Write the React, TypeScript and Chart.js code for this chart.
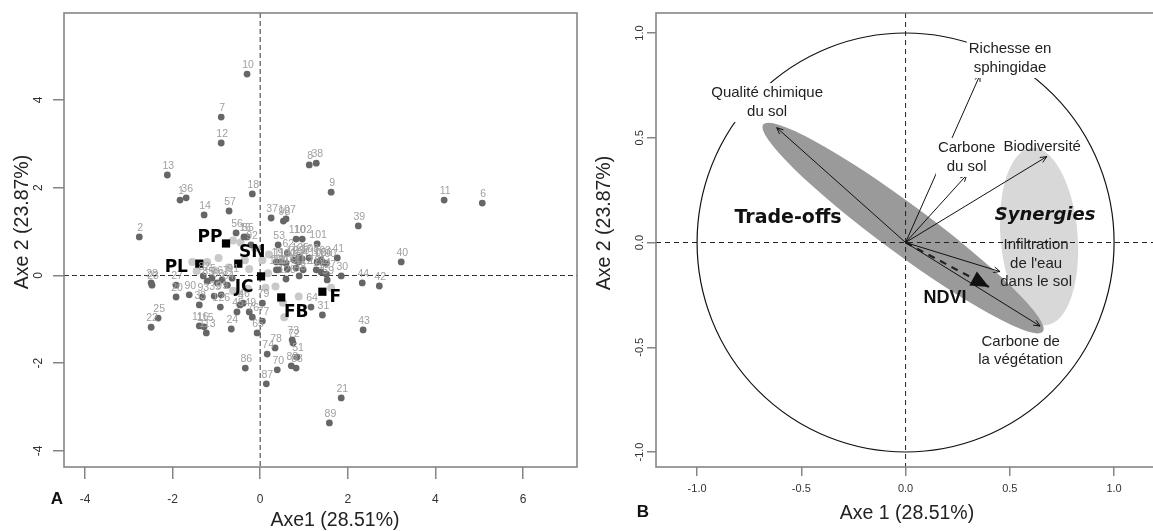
import React, { useEffect, useRef } from 'react';
import { Chart, registerables } from 'chart.js';
Chart.register(...registerables);

const SANS = '"Liberation Sans", Arial, Helvetica, sans-serif';
const COMIC = '"DejaVu Sans", sans-serif';
const FRAME = '#858585';

// ---------------- Panel A : individuals ----------------
const obsIds = ['10','7','12','13','1','36','18','14','57','2',
  '37','98','107','8','38','9','11','6','39','40',
  '41','101','110','102','53','62','125','103','30','59',
  '44','42','43','64','31','73','72','78','74','51',
  '88','83','70','87','21','89','86','65','77','24',
  '25','22','116','115','113','28','23','27','20','90',
  '33','93','35','99','126','45','4','46','49','76',
  '79','82','85','5','66','67','84','91','19','114',
  '120','123','104','117','108','105','106','100','118','119',
  '109','111','112','121','124','127','128','48','56','16',
  '55','92'];
const obsX = [-0.30,-0.89,-0.89,-2.12,-1.83,-1.69,-0.18,-1.28,-0.71,-2.76,
  0.25,0.53,0.59,1.12,1.28,1.62,4.20,5.07,2.24,3.22,
  1.76,1.30,0.82,0.96,0.41,0.62,0.89,1.39,1.85,1.53,
  2.33,2.72,2.35,1.16,1.42,0.73,0.75,0.34,0.16,0.84,
  0.71,0.82,0.39,0.14,1.85,1.58,-0.34,-0.07,0.05,-0.66,
  -2.33,-2.49,-1.39,-1.28,-1.23,-2.49,-2.47,-1.92,-1.92,-1.62,
  -1.39,-1.32,-1.05,-0.89,-0.91,-0.53,-0.46,-0.39,-0.25,-0.18,
  0.05,-1.30,-1.21,-1.10,-0.98,-0.87,-0.75,-0.64,0.37,0.48,
  0.59,0.78,0.87,0.96,1.12,1.30,1.42,1.51,0.37,0.43,
  0.62,0.82,0.98,1.28,1.39,1.51,0.59,0.89,-0.55,-0.37,
  -0.30,-0.21];
const obsY = [4.59,3.61,3.02,2.29,1.72,1.77,1.86,1.38,1.47,0.88,
  1.31,1.24,1.29,2.52,2.56,1.90,1.72,1.65,1.13,0.31,
  0.40,0.72,0.83,0.83,0.70,0.51,0.42,0.35,-0.01,-0.10,
  -0.17,-0.24,-1.24,-0.72,-0.90,-1.47,-1.54,-1.65,-1.79,-1.86,
  -2.06,-2.11,-2.15,-2.47,-2.79,-3.36,-2.11,-1.31,-1.04,-1.22,
  -0.97,-1.18,-1.15,-1.17,-1.31,-0.17,-0.22,-0.22,-0.49,-0.44,
  -0.67,-0.49,-0.47,-0.44,-0.72,-0.83,-0.67,-0.63,-0.83,-0.95,
  -0.63,-0.01,-0.13,-0.06,-0.17,-0.10,-0.22,-0.06,0.31,0.31,
  0.28,0.35,0.31,0.38,0.40,0.31,0.31,0.28,0.13,0.13,
  0.15,0.17,0.13,0.13,0.08,0.03,-0.08,-0.01,0.97,0.88,
  0.88,0.70];
const lightX = [-1.55,-1.21,-0.95,-0.62,-0.45,-0.12,0.05,0.20,-0.25,0.18,0.35,0.52,0.55,0.88,1.62,-0.62,-0.28,0.12,-1.05,-0.72,-1.45,-0.35];
const lightY = [0.31,0.31,0.40,0.80,0.75,0.62,0.35,0.48,0.15,0.05,-0.25,-0.62,-0.95,-0.48,-0.28,-0.35,-0.30,-0.28,0.12,0.18,0.10,0.35];
const groupNames = ['PL','PP','SN','JC','FB','F'];
const groupX = [-1.39,-0.78,-0.50,0.02,0.48,1.42];
const groupY = [0.27,0.73,0.27,-0.02,-0.50,-0.37];
const xTicksA = [-4,-2,0,2,4,6];
const yTicksA = [-4,-2,0,2,4];

// ---------------- Panel B : variables ----------------
const varNames = ['Qualité chimique\ndu sol','Richesse en\nsphingidae','Carbone\ndu sol','Biodiversité',"Infiltration\nde l'eau\ndans le sol",'Carbone de\nla végétation'];
const varX = [-0.618,0.357,0.293,0.677,0.453,0.645];
const varY = [0.548,0.800,0.322,0.410,-0.139,-0.399];
const ndviName = ['NDVI'];
const ndviX = [0.40];
const ndviY = [-0.212];
const xTicksB = [-1,-0.5,0,0.5,1];
const yTicksB = [-1,-0.5,0,0.5,1];

// layout / style (not data)
const groupLabelOffset = [[-23,4],[-16,-6],[14,-11],[-17,11],[15,15],[13,6]];
const varLabelAnchor = [[-0.664,0.668],[0.501,0.878],[0.293,0.406],[0.655,0.456],[0.626,-0.100],[0.552,-0.518]];
const varLabelBoxed = [true,true,true,false,false,false];
const darkEllipse = { cx: -0.012, cy: 0.069, a: 0.835, b: 0.116, deg: -36.5, color: '#9a9a9a' };
const lightEllipse = { cx: 0.64, cy: 0.029, a: 0.185, b: 0.425, deg: 4.7, color: '#d8d8d8' };

function scales(p: any) {
  return {
    x: {
      type: 'linear', position: 'bottom', min: p.xMin, max: p.xMax,
      afterBuildTicks: (s: any) => { s.ticks = p.xTicks.map((v: number) => ({ value: v })); },
      afterFit: (s: any) => { s.height = p.xHeight; s.paddingLeft = 0; s.paddingRight = 0; },
      grid: { display: true, drawOnChartArea: false, drawTicks: true, tickLength: p.xTl, color: FRAME, lineWidth: 1.5 },
      border: { display: false },
      ticks: { color: '#333', font: { family: SANS, size: p.fs }, padding: p.xPad, minRotation: 0, maxRotation: 0, autoSkip: false, callback: p.fmt },
    },
    y: {
      type: 'linear', position: 'left', min: p.yMin, max: p.yMax,
      afterBuildTicks: (s: any) => { s.ticks = p.yTicks.map((v: number) => ({ value: v })); },
      afterFit: (s: any) => { s.width = p.yWidth; s.paddingTop = 0; s.paddingBottom = 0; },
      grid: { display: true, drawOnChartArea: false, drawTicks: true, tickLength: p.yTl, color: FRAME, lineWidth: 1.5 },
      border: { display: false },
      ticks: { color: '#333', font: { family: SANS, size: p.fs }, padding: p.yPad, minRotation: 90, maxRotation: 90, crossAlign: 'center', autoSkip: false, callback: p.fmt },
    },
  };
}

function text(ctx: any, s: string, x: number, y: number, font: string, color: string, rot = 0) {
  ctx.save();
  ctx.font = font; ctx.fillStyle = color; ctx.textAlign = 'center'; ctx.textBaseline = 'middle';
  ctx.translate(x, y); if (rot) ctx.rotate(rot);
  ctx.fillText(s, 0, 0);
  ctx.restore();
}

function frame(chart: any) {
  const { ctx, chartArea: a } = chart;
  ctx.save(); ctx.strokeStyle = FRAME; ctx.lineWidth = 1.6;
  ctx.strokeRect(a.left, a.top, a.right - a.left, a.bottom - a.top);
  ctx.restore();
}

const plugA = {
  id: 'plugA',
  beforeDatasetsDraw(chart: any) {
    const { ctx, chartArea: a, scales: { x, y } } = chart;
    ctx.save(); ctx.strokeStyle = '#333'; ctx.lineWidth = 1; ctx.setLineDash([5, 3]);
    const x0 = x.getPixelForValue(0), y0 = y.getPixelForValue(0);
    ctx.beginPath(); ctx.moveTo(x0, a.top); ctx.lineTo(x0, a.bottom); ctx.stroke();
    ctx.beginPath(); ctx.moveTo(a.left, y0); ctx.lineTo(a.right, y0); ctx.stroke();
    ctx.restore();
  },
  afterDatasetsDraw(chart: any) {
    const { ctx, scales: { x, y } } = chart;
    obsIds.forEach((id, i) => {
      text(ctx, id, x.getPixelForValue(obsX[i]) + 1, y.getPixelForValue(obsY[i]) - 9, `10.5px ${SANS}`, '#a0a0a0');
    });
    groupNames.forEach((g, i) => {
      text(ctx, g, x.getPixelForValue(groupX[i]) + groupLabelOffset[i][0], y.getPixelForValue(groupY[i]) + groupLabelOffset[i][1], `bold 17px ${COMIC}`, '#000');
    });
  },
  afterDraw(chart: any) {
    const { ctx } = chart;
    frame(chart);
    text(ctx, 'Axe1 (28.51%)', 335, 521, `19.5px ${SANS}`, '#222');
    text(ctx, 'Axe 2 (23.87%)', 23, 222, `19.5px ${SANS}`, '#222', -Math.PI / 2);
    text(ctx, 'A', 57, 499, `bold 17px ${SANS}`, '#111');
  },
};

function drawEllipse(ctx: any, x: any, y: any, e: any) {
  const sx = Math.abs(x.getPixelForValue(1) - x.getPixelForValue(0));
  const sy = Math.abs(y.getPixelForValue(1) - y.getPixelForValue(0));
  ctx.save(); ctx.fillStyle = e.color; ctx.beginPath();
  ctx.ellipse(x.getPixelForValue(e.cx), y.getPixelForValue(e.cy), e.a * sx, e.b * sy, -e.deg * Math.PI / 180, 0, Math.PI * 2);
  ctx.fill(); ctx.restore();
}

const plugB = {
  id: 'plugB',
  beforeDatasetsDraw(chart: any) {
    const { ctx, chartArea: a, scales: { x, y } } = chart;
    drawEllipse(ctx, x, y, lightEllipse);
    drawEllipse(ctx, x, y, darkEllipse);
    const x0 = x.getPixelForValue(0), y0 = y.getPixelForValue(0);
    ctx.save(); ctx.strokeStyle = '#222'; ctx.lineWidth = 1; ctx.setLineDash([5, 4]);
    ctx.beginPath(); ctx.moveTo(x0, a.top); ctx.lineTo(x0, a.bottom); ctx.stroke();
    ctx.beginPath(); ctx.moveTo(a.left, y0); ctx.lineTo(a.right, y0); ctx.stroke();
    ctx.setLineDash([]);
    ctx.strokeStyle = '#111'; ctx.lineWidth = 1.2;
    const rx = x.getPixelForValue(1) - x0, ry = y0 - y.getPixelForValue(1);
    ctx.beginPath(); ctx.ellipse(x0, y0, rx, ry, 0, 0, Math.PI * 2); ctx.stroke();
    ctx.restore();
  },
  afterDatasetsDraw(chart: any) {
    const { ctx, scales: { x, y } } = chart;
    const x0 = x.getPixelForValue(0), y0 = y.getPixelForValue(0);
    ctx.save(); ctx.strokeStyle = '#111'; ctx.lineWidth = 1;
    varX.forEach((vx, i) => {
      const tx = x.getPixelForValue(vx), ty = y.getPixelForValue(varY[i]);
      const ang = Math.atan2(ty - y0, tx - x0);
      ctx.beginPath();
      ctx.moveTo(tx - 7 * Math.cos(ang - 0.42), ty - 7 * Math.sin(ang - 0.42));
      ctx.lineTo(tx, ty);
      ctx.lineTo(tx - 7 * Math.cos(ang + 0.42), ty - 7 * Math.sin(ang + 0.42));
      ctx.stroke();
    });
    // NDVI head
    const nx = x.getPixelForValue(ndviX[0]), ny = y.getPixelForValue(ndviY[0]);
    const ang = Math.atan2(ny - y0, nx - x0);
    const bx = nx - 18 * Math.cos(ang), by = ny - 18 * Math.sin(ang);
    ctx.fillStyle = '#111'; ctx.beginPath();
    ctx.moveTo(nx, ny);
    ctx.lineTo(bx - 8 * Math.sin(ang), by + 8 * Math.cos(ang));
    ctx.lineTo(bx + 8 * Math.sin(ang), by - 8 * Math.cos(ang));
    ctx.closePath(); ctx.fill();
    ctx.restore();
    // variable labels
    varNames.forEach((n, i) => {
      const lines = n.split('\n');
      const cx = x.getPixelForValue(varLabelAnchor[i][0]), cy = y.getPixelForValue(varLabelAnchor[i][1]);
      const lh = 18.5;
      ctx.save(); ctx.font = `15px ${SANS}`;
      if (varLabelBoxed[i]) {
        const w = Math.max(...lines.map((l) => ctx.measureText(l).width));
        ctx.fillStyle = '#fff';
        ctx.fillRect(cx - w / 2 - 2, cy - (lines.length * lh) / 2 - 1, w + 4, lines.length * lh + 2);
      }
      ctx.restore();
      lines.forEach((l, k) => text(ctx, l, cx, cy + (k - (lines.length - 1) / 2) * lh, `15px ${SANS}`, '#222'));
    });
    text(ctx, ndviName[0], x.getPixelForValue(0.189), y.getPixelForValue(-0.265), `bold 18px ${SANS}`, '#111');
    text(ctx, 'Trade-offs', x.getPixelForValue(-0.564), y.getPixelForValue(0.117), `bold 19px ${COMIC}`, '#111');
    text(ctx, 'Synergies', x.getPixelForValue(0.669), y.getPixelForValue(0.131), `italic bold 18px ${COMIC}`, '#111');
  },
  afterDraw(chart: any) {
    const { ctx } = chart;
    frame(chart);
    text(ctx, 'Axe 1 (28.51%)', 317, 514, `19.5px ${SANS}`, '#222');
    text(ctx, 'Axe 2 (23.87%)', 15, 223, `19.5px ${SANS}`, '#222', -Math.PI / 2);
    text(ctx, 'B', 53, 512, `bold 17px ${SANS}`, '#111');
  },
};

function configA(): any {
  return {
    type: 'scatter',
    data: {
      datasets: [
        { label: 'Groupes', data: groupX.map((v, i) => ({ x: v, y: groupY[i] })), pointStyle: 'rect', pointRadius: 5.8, backgroundColor: '#000', borderWidth: 0 },
        { label: 'Relevés', data: obsX.map((v, i) => ({ x: v, y: obsY[i] })), pointRadius: 3.4, backgroundColor: '#666', borderWidth: 0 },
        { label: 'Autres', data: lightX.map((v, i) => ({ x: v, y: lightY[i] })), pointRadius: 4, backgroundColor: '#c9c9c9', borderWidth: 0 },
      ],
    },
    options: {
      responsive: false, animation: false, events: [],
      layout: { padding: { top: 13, right: 23, left: 0, bottom: 0 } },
      plugins: { legend: { display: false }, tooltip: { enabled: false } },
      scales: scales({ xMin: -4.479, xMax: 7.233, yMin: -4.365, yMax: 5.983, xTicks: xTicksA, yTicks: yTicksA,
        fmt: (v: any) => String(v), xHeight: 64, yWidth: 64, xTl: 12, yTl: 11, xPad: 13, yPad: 8.7, fs: 12 }),
    },
    plugins: [plugA],
  };
}

function configB(): any {
  return {
    type: 'scatter',
    data: {
      datasets: [
        ...varNames.map((n, i) => ({ label: n, data: [{ x: 0, y: 0 }, { x: varX[i], y: varY[i] }], showLine: true, borderColor: '#111', borderWidth: 1, pointRadius: 0 })),
        { label: ndviName[0], data: [{ x: 0, y: 0 }, { x: ndviX[0], y: ndviY[0] }], showLine: true, borderColor: '#222', borderWidth: 2.2, borderDash: [7, 6], pointRadius: 0 },
      ],
    },
    options: {
      responsive: false, animation: false, events: [],
      layout: { padding: { top: 13, right: 14, left: 0, bottom: 0 } },
      plugins: { legend: { display: false }, tooltip: { enabled: false } },
      scales: scales({ xMin: -1.197, xMax: 1.201, yMin: -1.0716, yMax: 1.0955, xTicks: xTicksB, yTicks: yTicksB,
        fmt: (v: any) => Number(v).toFixed(1), xHeight: 64, yWidth: 66, xTl: 9, yTl: 9, xPad: 6.4, yPad: -2.5, fs: 11 }),
    },
    plugins: [plugB],
  };
}

export default function App() {
  const refA = useRef<HTMLCanvasElement>(null);
  const refB = useRef<HTMLCanvasElement>(null);
  useEffect(() => {
    const a = new Chart(refA.current as HTMLCanvasElement, configA());
    const b = new Chart(refB.current as HTMLCanvasElement, configB());
    return () => { a.destroy(); b.destroy(); };
  }, []);
  return (
    <div style={{ position: 'fixed', left: 0, top: 0, width: 1153, height: 531, overflow: 'hidden', background: '#fff' }}>
      <canvas ref={refA} width={600} height={531} style={{ position: 'absolute', left: 0, top: 0, width: 600, height: 531 }} />
      <canvas ref={refB} width={580} height={531} style={{ position: 'absolute', left: 590, top: 0, width: 580, height: 531 }} />
    </div>
  );
}
